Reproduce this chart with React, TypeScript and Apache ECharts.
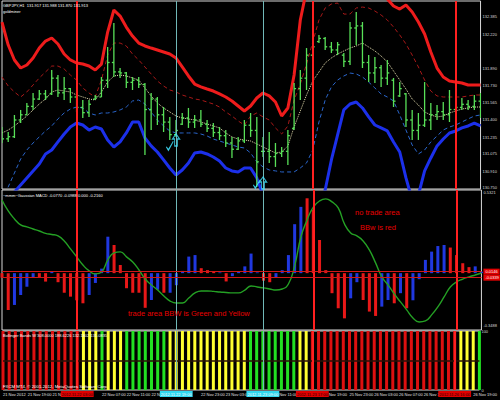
import React, { useEffect, useRef } from "react";
import * as echarts from "echarts";

// ---------- categories (H1 bars, weekend gap) ----------
const daySegments = [
  { day: "21", from: 15, to: 23 },
  { day: "22", from: 0, to: 23 },
  { day: "23", from: 0, to: 21 },
  { day: "25", from: 22, to: 23 },
  { day: "26", from: 0, to: 20 },
];
const categories: string[] = [];
daySegments.forEach((s) => {
  for (let h = s.from; h <= s.to; h++) categories.push(`2012.11.${s.day} ${String(h).padStart(2, "0")}:00`);
});

// ---------- price panel ----------
const barOpen = [
  131.25, 131.22, 131.24, 131.40, 131.45, 131.53, 131.60, 131.65, 131.65, 131.80,
  131.66, 131.70, 131.62, 131.52, 131.47, 131.60, 131.62, 131.78, 131.95, 131.86,
  131.85, 131.76, 131.78, 131.74, 131.50, 131.60, 131.45, 131.38, 131.26, 131.36,
  131.42, 131.38, 131.40, 131.36, 131.32, 131.28, 131.25, 131.18, 131.12, 131.20,
  131.35, 131.30, 131.10, 131.10, 131.05, 131.08, 131.10, 131.32, 131.70, 131.80,
  132.02, 132.15, 132.18, 132.10, 132.07, 132.02, 131.96, 132.28, 132.30, 131.95,
  131.85, 131.90, 131.80, 131.78, 131.63, 131.65, 131.40, 131.30, 131.35, 131.40,
  131.45, 131.48, 131.45, 131.50, 131.52, 131.55, 131.53, 131.58,
];
const barHigh = [
  131.333, 131.285, 131.448, 131.496, 131.563, 131.658, 131.687, 131.687, 131.878, 131.830,
  131.811, 131.706, 131.668, 131.591, 131.591, 131.639, 131.811, 132.098, 132.327, 131.897,
  131.859, 131.811, 131.811, 131.754, 131.658, 131.620, 131.524, 131.429, 131.400, 131.467,
  131.515, 131.448, 131.496, 131.400, 131.371, 131.333, 131.304, 131.238, 131.238, 131.400,
  131.467, 131.429, 131.238, 131.285, 131.180, 131.142, 131.304, 131.754, 131.878, 132.088,
  132.230, 132.213, 132.194, 132.146, 132.146, 132.041, 132.337, 132.433, 132.337, 132.021,
  132.002, 131.926, 131.974, 131.802, 131.763, 131.658, 131.496, 131.467, 131.763, 131.563,
  131.543, 131.572, 131.687, 131.591, 131.610, 131.591, 131.639, 131.658,
];
const barLow = [
  131.180, 131.190, 131.228, 131.371, 131.448, 131.496, 131.591, 131.591, 131.639, 131.620,
  131.591, 131.563, 131.477, 131.419, 131.429, 131.591, 131.620, 131.706, 131.811, 131.802,
  131.706, 131.687, 131.706, 131.065, 131.304, 131.352, 131.285, 131.209, 131.238, 131.352,
  131.324, 131.324, 131.333, 131.285, 131.238, 131.209, 131.142, 131.037, 131.113, 131.180,
  131.238, 130.760, 131.046, 130.989, 130.951, 131.046, 130.970, 131.304, 131.591, 131.687,
  131.974, 132.136, 132.069, 132.041, 132.021, 131.907, 131.926, 132.117, 131.897, 131.763,
  131.754, 131.716, 131.735, 131.524, 131.620, 131.333, 131.209, 131.209, 131.333, 131.304,
  131.400, 131.400, 131.381, 131.448, 131.496, 131.496, 131.496, 131.419,
];
const barClose = [
  131.22, 131.24, 131.40, 131.45, 131.53, 131.60, 131.65, 131.62, 131.80, 131.66,
  131.70, 131.62, 131.52, 131.47, 131.55, 131.62, 131.78, 131.95, 131.86, 131.85,
  131.76, 131.78, 131.74, 131.50, 131.60, 131.45, 131.38, 131.26, 131.30, 131.42,
  131.38, 131.40, 131.36, 131.32, 131.28, 131.25, 131.18, 131.12, 131.20, 131.35,
  131.30, 131.00, 131.10, 131.05, 131.08, 131.10, 131.25, 131.70, 131.80, 132.02,
  132.10, 132.18, 132.10, 132.07, 132.12, 131.96, 132.28, 132.30, 131.95, 131.85,
  131.90, 131.80, 131.85, 131.58, 131.70, 131.40, 131.30, 131.35, 131.40, 131.45,
  131.48, 131.45, 131.50, 131.52, 131.55, 131.53, 131.58, 131.50,
];
const upperOuter = [
  132.337, 132.117, 131.974, 131.897, 131.926, 131.993, 132.088, 132.155, 132.184, 132.127,
  132.031, 131.974, 131.945, 131.935, 131.916, 131.878, 131.935, 132.241, 132.452, 132.394,
  132.289, 132.203, 132.136, 132.108, 132.088, 132.069, 132.050, 132.031, 131.993, 131.907,
  131.821, 131.744, 131.716, 131.696, 131.677, 131.649, 131.620, 131.582, 131.534, 131.486,
  131.534, 131.610, 131.658, 131.630, 131.572, 131.438, 131.515, 131.830, 132.356, 132.643,
  132.786, 132.882, 132.930, 132.949, 132.949, 132.930, 132.911, 132.882, 132.834, 132.786,
  132.738, 132.681, 132.557, 132.490, 132.461, 132.499, 132.433, 132.337, 132.222, 132.050,
  131.897, 131.811, 131.773, 131.763, 131.754, 131.735, 131.735, 131.735,
];
const upperInner = [
  131.811, 131.725, 131.668, 131.620, 131.668, 131.735, 131.802, 131.859, 131.916, 131.916,
  131.888, 131.830, 131.782, 131.706, 131.658, 131.620, 131.782, 132.021, 132.136, 132.136,
  132.108, 132.031, 131.974, 131.907, 131.840, 131.773, 131.725, 131.687, 131.668, 131.639,
  131.620, 131.601, 131.591, 131.572, 131.553, 131.524, 131.477, 131.438, 131.391, 131.352,
  131.438, 131.467, 131.429, 131.400, 131.324, 131.266, 131.343, 131.591, 131.744, 131.935,
  132.146, 132.356, 132.471, 132.509, 132.519, 132.413, 132.413, 132.471, 132.480, 132.471,
  132.442, 132.404, 132.356, 132.289, 132.213, 132.127, 132.021, 131.907, 131.782, 131.677,
  131.630, 131.620, 131.620, 131.620, 131.620, 131.630, 131.639, 131.639,
];
const middleBand = [
  131.276, 131.304, 131.343, 131.391, 131.438, 131.496, 131.553, 131.601, 131.668, 131.687,
  131.677, 131.668, 131.639, 131.620, 131.601, 131.591, 131.668, 131.763, 131.821, 131.830,
  131.821, 131.802, 131.782, 131.706, 131.630, 131.563, 131.515, 131.477, 131.438, 131.419,
  131.410, 131.400, 131.381, 131.362, 131.343, 131.324, 131.276, 131.238, 131.218, 131.209,
  131.199, 131.171, 131.142, 131.113, 131.085, 131.094, 131.152, 131.333, 131.486, 131.639,
  131.773, 131.859, 131.945, 131.993, 132.031, 132.060, 132.088, 132.108, 132.136, 132.098,
  132.060, 132.012, 131.955, 131.869, 131.782, 131.696, 131.601, 131.543, 131.477, 131.448,
  131.429, 131.438, 131.467, 131.486, 131.505, 131.515, 131.524, 131.524,
];
const lowerInner = [
  130.635, 130.760, 130.893, 131.027, 131.113, 131.180, 131.238, 131.295, 131.343, 131.410,
  131.467, 131.505, 131.524, 131.515, 131.467, 131.448, 131.467, 131.467, 131.477, 131.496,
  131.524, 131.582, 131.591, 131.553, 131.477, 131.400, 131.343, 131.295, 131.276, 131.276,
  131.276, 131.276, 131.266, 131.247, 131.218, 131.199, 131.180, 131.161, 131.142, 131.132,
  131.085, 130.999, 130.951, 130.922, 130.913, 130.903, 130.903, 130.903, 130.941, 130.989,
  131.113, 131.381, 131.591, 131.716, 131.782, 131.821, 131.849, 131.840, 131.811, 131.763,
  131.706, 131.649, 131.620, 131.582, 131.448, 131.304, 131.161, 131.075, 131.113, 131.190,
  131.247, 131.304, 131.333, 131.352, 131.381, 131.410, 131.438, 131.448,
];
const lowerOuter = [
  130.587, 130.654, 130.712, 130.779, 130.846, 130.913, 130.979, 131.075, 131.113, 131.190,
  131.266, 131.333, 131.371, 131.352, 131.304, 131.333, 131.314, 131.209, 131.142, 131.190,
  131.276, 131.381, 131.381, 131.228, 131.152, 131.094, 131.018, 130.941, 130.874, 130.922,
  130.989, 131.085, 131.094, 131.075, 131.046, 131.008, 130.941, 130.913, 130.903, 130.941,
  130.941, 130.846, 130.683, 130.587, 130.521, 130.463, 130.425, 130.396, 130.396, 130.425,
  130.463, 130.540, 130.731, 131.018, 131.257, 131.496, 131.553, 131.572, 131.515, 131.429,
  131.352, 131.324, 131.295, 131.190, 131.094, 130.846, 130.635, 130.683, 130.913, 131.037,
  131.152, 131.218, 131.276, 131.295, 131.324, 131.343, 131.371, 131.343,
];
const priceTicks = [130.75, 130.91, 131.075, 131.235, 131.4, 131.565, 131.73, 131.89, 132.22, 132.385];
const priceBox = 132.047;
const arrowIdx = [28, 42];
const arrowPrice = [131.209, 130.798];
const checkIdx = [27, 41];
const checkPrice = [131.152, 130.788];

// ---------- MACD panel ----------
const macdHist = [
  -0.03, -0.244, -0.211, -0.145, -0.09, -0.03, -0.03, -0.056, 0.01, -0.06,
  -0.13, -0.156, -0.18, -0.2, -0.145, -0.065, 0.03, 0.242, 0.187, 0.054,
  -0.1, -0.13, -0.13, -0.23, -0.178, -0.11, -0.13, -0.13, -0.08, 0.015,
  0.11, 0.12, 0.033, 0.02, 0.01, 0.005, -0.055, -0.02, 0.01, 0.045,
  0.13, 0.005, -0.05, -0.06, -0.03, 0.02, 0.12, 0.325, 0.44, 0.497,
  0.42, 0.22, 0.02, -0.133, -0.233, -0.3, -0.167, -0.06, -0.178, -0.255,
  -0.284, -0.222, -0.178, -0.2, -0.133, -0.233, -0.18, -0.04, 0.088, 0.143,
  0.18, 0.187, 0.17, 0.12, 0.066, 0.04, 0.045, 0.01,
];
const macdColor = "RRBBBBRRBRRRRRBBBBRRRRRRBBRBBBBBRRRBRBBBBBRRBBBBBRRRRRRRBBRRRBBRBRBBBBBBRRRRBB".split("");
const macdSignal = [
  0.486, 0.413, 0.36, 0.32, 0.307, 0.293, 0.28, 0.264, 0.257, 0.247,
  0.214, 0.161, 0.108, 0.054, 0.015, -0.005, 0.008, 0.088, 0.134, 0.141,
  0.108, 0.074, 0.021, -0.039, -0.078, -0.112, -0.151, -0.185, -0.198, -0.198,
  -0.165, -0.131, -0.118, -0.118, -0.121, -0.125, -0.128, -0.131, -0.131, -0.112,
  -0.085, -0.092, -0.098, -0.105, -0.112, -0.105, -0.072, 0.048, 0.24, 0.353,
  0.439, 0.479, 0.493, 0.473, 0.433, 0.327, 0.267, 0.247, 0.214, 0.154,
  0.068, -0.025, -0.078, -0.138, -0.191, -0.244, -0.297, -0.324, -0.317, -0.277,
  -0.224, -0.158, -0.092, -0.058, -0.039, -0.025, -0.012, 0.001,
];
const macdLevels = [0.0146, -0.0339];
const macdTicks = [-0.3488, 0.5321];

// ---------- BB width panel ----------
const bbwState = "RRRRRRRRRRRRRYYYGYYYGGGGGGGYYYYYYYYYYYYYGGGGGGGGYYRRRRRRRRRRRRRRRRRRRRRRRRYYYG".split("");
const bbwTicks = [0, 100];

// ---------- vertical lines ----------
const redLines = [12, 50, 73];
const tealLines = [28, 42];
// time labels hidden behind the line boxes, and those only partly visible
const hiddenTimeLabels = [12, 28, 40, 48, 72];
const cutTimeLabels: Record<number, string> = { 8: "21 No", 24: "22 No", 68: "26 Nov 1" };
const tailTimeLabels = [44, 52];

const FONT = "Liberation Sans";
const COL = {
  red: "#ee1c1c",
  redDash: "#a81818",
  mid: "#e6deb0",
  blueDash: "#2a66cc",
  blue: "#1c30ea",
  bar: "#58e058",
  histR: "#e81818",
  histB: "#2038e0",
  sig: "#24a024",
  bbR: "#dd1010",
  bbY: "#ffff30",
  bbG: "#22e022",
  cyan: "#40e4ff",
  teal: "#70b8b8",
  vred: "#ff2020",
};

function vLines(withLabels: boolean) {
  const items: any[] = [];
  redLines.forEach((i) =>
    items.push({
      xAxis: categories[i],
      lineStyle: { color: COL.vred, width: 2, type: "solid" },
      label: withLabels
        ? { show: true, position: "start", formatter: categories[i], backgroundColor: "#e00000", color: "#300000", fontSize: 4, fontFamily: FONT, padding: [1, 1], distance: 1 }
        : { show: false },
    })
  );
  tealLines.forEach((i) =>
    items.push({
      xAxis: categories[i],
      lineStyle: { color: COL.teal, width: 1, type: "solid" },
      label: withLabels
        ? { show: true, position: "start", formatter: categories[i], backgroundColor: "#30d8f0", color: "#ffffff", fontSize: 4, fontFamily: FONT, padding: [1, 1], distance: 1 }
        : { show: false },
    })
  );
  return items;
}

const nulls = categories.map(() => null);

export default function App() {
  const ref = useRef<HTMLDivElement>(null);
  useEffect(() => {
    document.body.style.margin = "0";
    document.body.style.background = "#000";
    if (!ref.current) return;
    const chart = echarts.init(ref.current, undefined, { renderer: "svg" });

    const xBase = (gi: number, showLabel: boolean) => ({
      type: "category",
      gridIndex: gi,
      data: categories,
      boundaryGap: false,
      axisLine: { show: false },
      axisTick: { show: false },
      splitLine: { show: false },
      axisLabel: showLabel
        ? {
            show: true,
            interval: 3,
            align: "left",
            fontSize: 4,
            fontFamily: FONT,
            color: "#e0e0e0",
            margin: 2,
            rich: { tail: { fontSize: 4, fontFamily: FONT, color: "#e0e0e0", padding: [0, 0, 0, 4] } },
            formatter: (v: string, idx: number) => {
              if (hiddenTimeLabels.includes(idx)) return "";
              if (cutTimeLabels[idx]) return cutTimeLabels[idx];
              if (tailTimeLabels.includes(idx)) return `{tail|Nov ${v.slice(11)}}`;
              return idx === 0 ? "21 Nov 2012" : `${v.slice(8, 10)} Nov ${v.slice(11)}`;
            },
          }
        : { show: false },
    });
    const yBase = (gi: number, min: number, max: number, ticks: number[], dec: number) => ({
      type: "value",
      gridIndex: gi,
      position: "right",
      min,
      max,
      axisLine: { show: false },
      axisTick: { show: false },
      splitLine: { show: false },
      axisLabel: {
        show: true,
        customValues: ticks,
        formatter: (v: number) => v.toFixed(dec),
        fontSize: 4,
        fontFamily: FONT,
        color: "#d8d8d8",
        margin: 2,
      },
    });

    const lineS = (data: number[], color: string, width: number, type: any, z = 2) => ({
      type: "line",
      xAxisIndex: 0,
      yAxisIndex: 0,
      data,
      symbol: "none",
      lineStyle: { color, width, type },
      z,
      silent: true,
    });

    const option: any = {
      animation: false,
      backgroundColor: "#000",
      grid: [
        { left: 2, right: 15, top: 1, height: 188, show: true, borderColor: "#d8d8d8", borderWidth: 1, backgroundColor: "#000" },
        { left: 2, right: 15, top: 190, height: 140, show: true, borderColor: "#d8d8d8", borderWidth: 1, backgroundColor: "#000" },
        { left: 2, right: 15, top: 331, height: 59, show: true, borderColor: "#d8d8d8", borderWidth: 1, backgroundColor: "#000" },
      ],
      xAxis: [xBase(0, false), xBase(1, false), xBase(2, true)],
      yAxis: [
        yBase(0, 130.74, 132.538, priceTicks, 3),
        yBase(1, -0.3773, 0.552, macdTicks, 4),
        yBase(2, 0, 100, bbwTicks, 0),
      ],
      series: [
        lineS(upperOuter, COL.red, 3, "solid", 3),
        lineS(upperInner, COL.redDash, 1, [4, 3]),
        lineS(middleBand, COL.mid, 1, "dotted"),
        lineS(lowerInner, COL.blueDash, 1, [4, 3]),
        lineS(lowerOuter, COL.blue, 3, "solid", 3),
        {
          type: "custom",
          xAxisIndex: 0,
          yAxisIndex: 0,
          clip: true,
          z: 4,
          silent: true,
          data: categories.map((_, i) => [i, barOpen[i], barHigh[i], barLow[i], barClose[i]]),
          encode: { x: 0, y: [1, 2, 3, 4] },
          renderItem: (params: any, api: any) => {
            const i = api.value(0);
            const o = api.coord([i, api.value(1)]);
            const h = api.coord([i, api.value(2)]);
            const l = api.coord([i, api.value(3)]);
            const c = api.coord([i, api.value(4)]);
            const x = h[0];
            const style = { stroke: COL.bar, lineWidth: 1.3 };
            return {
              type: "group",
              children: [
                { type: "line", shape: { x1: x, y1: h[1], x2: x, y2: l[1] }, style },
                { type: "line", shape: { x1: x - 2, y1: o[1], x2: x, y2: o[1] }, style },
                { type: "line", shape: { x1: x, y1: c[1], x2: x + 2, y2: c[1] }, style },
              ],
            };
          },
        },
        {
          type: "scatter",
          xAxisIndex: 0,
          yAxisIndex: 0,
          z: 6,
          silent: true,
          data: arrowIdx.map((i, k) => [i, arrowPrice[k]]),
          symbol: "path://M5,0 L10,5 L7,5 L7,12 L3,12 L3,5 L0,5 Z",
          symbolSize: [7, 12],
          itemStyle: { color: "transparent", borderColor: COL.cyan, borderWidth: 1.2 },
        },
        {
          type: "scatter",
          xAxisIndex: 0,
          yAxisIndex: 0,
          z: 6,
          silent: true,
          data: checkIdx.map((i, k) => [i, checkPrice[k]]),
          symbol: "path://M0,6 L3,10 L10,0 L3,9 Z",
          symbolSize: [7, 9],
          itemStyle: { color: COL.cyan, borderColor: COL.cyan, borderWidth: 1 },
        },
        {
          type: "line",
          xAxisIndex: 0,
          yAxisIndex: 0,
          data: nulls,
          symbol: "none",
          z: 10,
          markLine: {
            silent: true,
            symbol: "none",
            data: [
              ...vLines(false),
              {
                yAxis: priceBox,
                lineStyle: { opacity: 0 },
                label: { show: true, position: "end", formatter: priceBox.toFixed(3), backgroundColor: "#ffffff", color: "#000", fontSize: 4, fontFamily: FONT, padding: [1, 1], distance: 2 },
              },
            ],
          },
        },
        // MACD
        {
          type: "bar",
          xAxisIndex: 1,
          yAxisIndex: 1,
          barWidth: 3,
          silent: true,
          data: macdHist.map((v, i) => ({ value: v, itemStyle: { color: macdColor[i] === "R" ? COL.histR : COL.histB } })),
          z: 2,
        },
        {
          type: "line",
          xAxisIndex: 1,
          yAxisIndex: 1,
          data: macdSignal,
          symbol: "none",
          smooth: true,
          lineStyle: { color: COL.sig, width: 1.4 },
          z: 3,
          silent: true,
        },
        {
          type: "line",
          xAxisIndex: 1,
          yAxisIndex: 1,
          data: nulls,
          symbol: "none",
          z: 10,
          markLine: {
            silent: true,
            symbol: "none",
            data: [
              ...vLines(false),
              ...macdLevels.map((v) => ({
                yAxis: v,
                lineStyle: { color: "#d01818", width: 1, type: "solid" },
                label: { show: true, position: "end", formatter: v.toFixed(4), backgroundColor: "#e00000", color: "#ffffff", fontSize: 4, fontFamily: FONT, padding: [1, 2], distance: 2 },
              })),
            ],
          },
        },
        // BB width
        {
          type: "bar",
          xAxisIndex: 2,
          yAxisIndex: 2,
          barWidth: 3,
          silent: true,
          data: bbwState.map((s) => ({ value: 100, itemStyle: { color: s === "R" ? COL.bbR : s === "Y" ? COL.bbY : COL.bbG } })),
          z: 2,
        },
        {
          type: "line",
          xAxisIndex: 2,
          yAxisIndex: 2,
          data: nulls,
          symbol: "none",
          z: 10,
          markLine: {
            silent: true,
            symbol: "none",
            data: [
              { yAxis: 50, lineStyle: { color: "#2a1208", width: 1.5, type: "solid" }, label: { show: false } },
              ...vLines(true),
            ],
          },
        },
      ],
      graphic: [
        { type: "text", left: 3, top: 3, z: 20, style: { text: "GBPJPY,H1  131.917 131.988 131.870 131.913", fill: "#ffffff", font: `4px "${FONT}"` } },
        { type: "text", left: 3, top: 9, z: 20, style: { text: "goldminer", fill: "#ffffff", font: `4px "${FONT}"` } },
        { type: "text", left: 3, top: 193, z: 20, style: { text: "~mmm~Gaussian MACD -0.0770 -0.0988 0.000 -0.2160", fill: "#ffffff", font: `4px "${FONT}"` } },
        { type: "text", left: 3, top: 333, z: 20, style: { text: "Bollinger Bands W 308.0000 188.6226 132.1302 131.0835", fill: "#ffffff", font: `4px "${FONT}"` } },
        { type: "text", left: 3, top: 384, z: 20, style: { text: "FXCM MT4, © 2001-2012, MetaQuotes Software Corp.", fill: "#ffffff", font: `4.3px "${FONT}"` } },
        { type: "text", left: 355, top: 208, z: 20, style: { text: "no trade area", fill: "#e80000", font: `7.5px "${FONT}"` } },
        { type: "text", left: 360, top: 223, z: 20, style: { text: "BBw is red", fill: "#e80000", font: `7.5px "${FONT}"` } },
        { type: "text", left: 128, top: 309, z: 20, style: { text: "trade area BBW is Green and Yellow", fill: "#e80000", font: `7.5px "${FONT}"` } },
      ],
    };
    chart.setOption(option);
    return () => chart.dispose();
  }, []);
  return <div ref={ref} style={{ width: 500, height: 400, background: "#000" }} />;
}
